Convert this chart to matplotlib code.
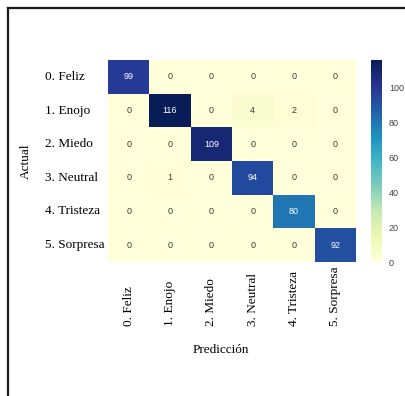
import matplotlib
matplotlib.use("Agg")
import matplotlib.pyplot as plt
from matplotlib.lines import Line2D
import numpy as np
import seaborn as sns

labels = ["0. Feliz", "1. Enojo", "2. Miedo", "3. Neutral", "4. Tristeza", "5. Sorpresa"]
row_feliz    = [99, 0, 0, 0, 0, 0]
row_enojo    = [0, 116, 0, 4, 2, 0]
row_miedo    = [0, 0, 109, 0, 0, 0]
row_neutral  = [0, 1, 0, 94, 0, 0]
row_tristeza = [0, 0, 0, 0, 80, 0]
row_sorpresa = [0, 0, 0, 0, 0, 92]
cbar_ticks = [0, 20, 40, 60, 80, 100]

matrix = np.array([row_feliz, row_enojo, row_miedo, row_neutral, row_tristeza, row_sorpresa])

W, H, DPI = 406, 396, 100
fig = plt.figure(figsize=(W / DPI, H / DPI), dpi=DPI)

def px_rect(x0, y0, x1, y1):
    return [x0 / W, 1 - y1 / H, (x1 - x0) / W, (y1 - y0) / H]

ax = fig.add_axes(px_rect(108, 60, 356, 262))
cax = fig.add_axes(px_rect(371, 60, 382, 262))

sns.heatmap(matrix, ax=ax, cbar_ax=cax, cmap="YlGnBu", vmin=0, vmax=matrix.max(),
            annot=True, fmt="d", linewidths=0,
            annot_kws={"fontsize": 6.5, "family": "Liberation Sans"},
            xticklabels=labels, yticklabels=labels)

for txt in ax.texts:
    if txt.get_color() != "w" and txt.get_color() != "white":
        txt.set_color("#3a3a3a")

serif = "Liberation Serif"
ax.tick_params(axis="both", length=0)
ax.tick_params(axis="y", pad=63 * 72 / DPI)
ax.tick_params(axis="x", pad=64 * 72 / DPI)
for t in ax.get_yticklabels():
    t.set_family(serif)
    t.set_fontsize(9.5)
    t.set_rotation(0)
    t.set_ha("left")
for t in ax.get_xticklabels():
    t.set_family(serif)
    t.set_fontsize(9.5)
    t.set_rotation(90)
    t.set_ha("center")
    t.set_va("bottom")

ax.set_ylabel("Actual", family=serif, fontsize=9.5)
ax.yaxis.set_label_coords((32 - 108) / 248, 0.5)
ax.set_xlabel("Predicción", family=serif, fontsize=9.5)
ax.xaxis.set_label_coords((221 - 108) / 248, (262 - 344) / 202)

cbar = ax.collections[0].colorbar
cbar.set_ticks(cbar_ticks)
cbar.outline.set_visible(False)
cax.tick_params(length=0, labelsize=6.5, colors="#444444", pad=5)
for t in cax.get_yticklabels():
    t.set_family("Liberation Sans")

# page frame (left and top edges)
fig.add_artist(Line2D([7.5 / W, 7.5 / W], [0, 1 - 7.5 / H], transform=fig.transFigure,
                      color="#1a1a1a", linewidth=1.6))
fig.add_artist(Line2D([7.5 / W, 1], [1 - 7.5 / H, 1 - 7.5 / H], transform=fig.transFigure,
                      color="#1a1a1a", linewidth=1.6))

fig.savefig("out.png", dpi=DPI)
